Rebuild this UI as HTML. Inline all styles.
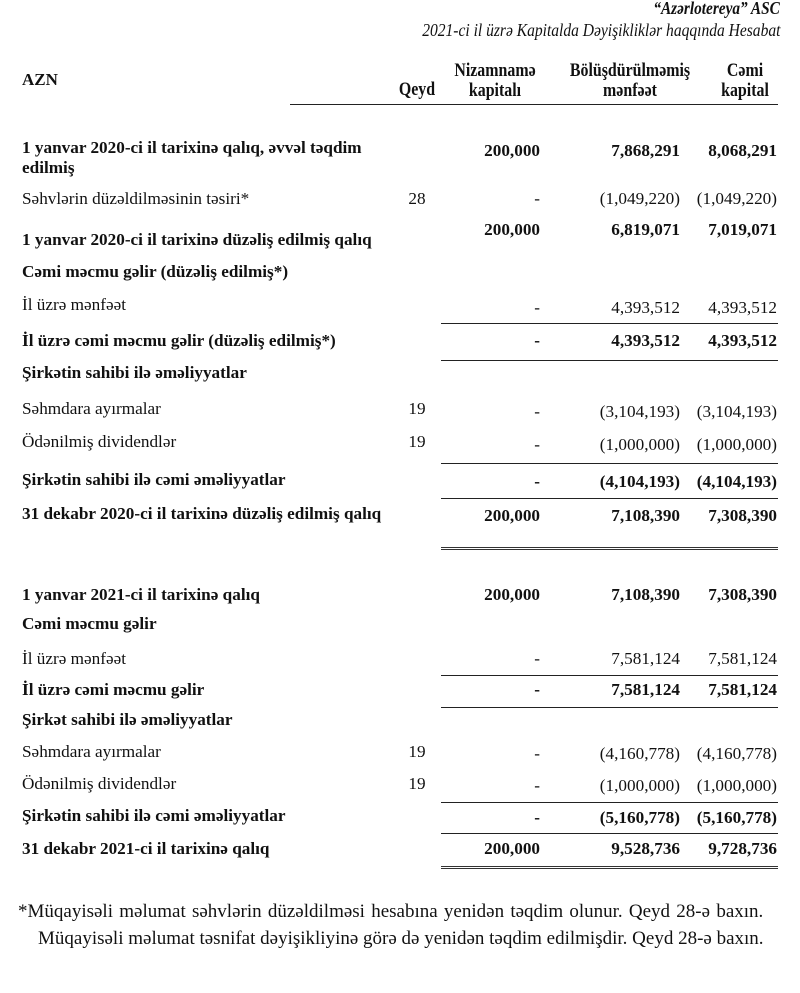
<!DOCTYPE html>
<html><head><meta charset="utf-8"><style>
body{margin:0;background:#fff;}
#p{position:relative;width:800px;height:993px;overflow:hidden;font-family:"Liberation Serif",serif;color:#111;font-size:17.2px;}
#p div{position:absolute;line-height:20px;white-space:nowrap;}
.b{font-weight:bold;}
.l{left:22px;}
.q{left:400px;width:34px;text-align:center;}
.c1{right:260px;text-align:right;}
.c2{right:120px;text-align:right;}
.c3{right:23px;text-align:right;}
.hr{height:0;border-top:1.3px solid #222;left:441px;width:337px;}
.hd{font-weight:bold;transform:scaleX(0.86);text-align:center;font-size:18.5px;}
</style></head><body><div id="p">
<div style="right:20px;top:-2px;font-style:italic;font-weight:bold;font-size:18px;transform:scaleX(.85);transform-origin:right">“Azərlotereya” ASC</div>
<div style="right:20px;top:20px;font-style:italic;font-size:18.3px;transform:scaleX(.85);transform-origin:right">2021-ci il üzrə Kapitalda Dəyişikliklər haqqında Hesabat</div>
<div class="b l" style="top:70px;font-size:17px">AZN</div>
<div class="hd" style="left:392px;top:80px;width:50px">Qeyd</div>
<div class="hd" style="left:440px;top:61px;width:110px">Nizamnamə<br>kapitalı</div>
<div class="hd" style="left:560px;top:61px;width:140px">Bölüşdürülməmiş<br>mənfəət</div>
<div class="hd" style="left:705px;top:61px;width:80px">Cəmi<br>kapital</div>
<div class="hr" style="top:104px;left:290px;width:488px"></div>

<div class="b l" style="top:138px">1 yanvar 2020-ci il tarixinə qalıq, əvvəl təqdim<br>edilmiş</div>
<div class="b c1" style="top:141px">200,000</div><div class="b c2" style="top:141px">7,868,291</div><div class="b c3" style="top:141px">8,068,291</div>
<div class="l" style="top:189px">Səhvlərin düzəldilməsinin təsiri*</div>
<div class="q" style="top:189px">28</div><div class="c1" style="top:189px">-</div><div class="c2" style="top:189px">(1,049,220)</div><div class="c3" style="top:189px">(1,049,220)</div>
<div class="b l" style="top:230px">1 yanvar 2020-ci il tarixinə düzəliş edilmiş qalıq</div>
<div class="b c1" style="top:220px">200,000</div><div class="b c2" style="top:220px">6,819,071</div><div class="b c3" style="top:220px">7,019,071</div>
<div class="b l" style="top:262px">Cəmi məcmu gəlir (düzəliş edilmiş*)</div>
<div class="l" style="top:295px">İl üzrə mənfəət</div>
<div class="c1" style="top:298px">-</div><div class="c2" style="top:298px">4,393,512</div><div class="c3" style="top:298px">4,393,512</div>
<div class="hr" style="top:323px"></div>
<div class="b l" style="top:331px">İl üzrə cəmi məcmu gəlir (düzəliş edilmiş*)</div>
<div class="b c1" style="top:331px">-</div><div class="b c2" style="top:331px">4,393,512</div><div class="b c3" style="top:331px">4,393,512</div>
<div class="hr" style="top:360px"></div>
<div class="b l" style="top:363px">Şirkətin sahibi ilə əməliyyatlar</div>
<div class="l" style="top:399px">Səhmdara ayırmalar</div>
<div class="q" style="top:399px">19</div><div class="c1" style="top:402px">-</div><div class="c2" style="top:402px">(3,104,193)</div><div class="c3" style="top:402px">(3,104,193)</div>
<div class="l" style="top:432px">Ödənilmiş dividendlər</div>
<div class="q" style="top:432px">19</div><div class="c1" style="top:435px">-</div><div class="c2" style="top:435px">(1,000,000)</div><div class="c3" style="top:435px">(1,000,000)</div>
<div class="hr" style="top:463px"></div>
<div class="b l" style="top:470px">Şirkətin sahibi ilə cəmi əməliyyatlar</div>
<div class="b c1" style="top:472px">-</div><div class="b c2" style="top:472px">(4,104,193)</div><div class="b c3" style="top:472px">(4,104,193)</div>
<div class="hr" style="top:498px"></div>
<div class="b l" style="top:504px">31 dekabr 2020-ci il tarixinə düzəliş edilmiş qalıq</div>
<div class="b c1" style="top:506px">200,000</div><div class="b c2" style="top:506px">7,108,390</div><div class="b c3" style="top:506px">7,308,390</div>
<div class="hr" style="top:547px;border-top:3px double #333;height:1px"></div>

<div class="b l" style="top:585px">1 yanvar 2021-ci il tarixinə qalıq</div>
<div class="b c1" style="top:585px">200,000</div><div class="b c2" style="top:585px">7,108,390</div><div class="b c3" style="top:585px">7,308,390</div>
<div class="b l" style="top:614px">Cəmi məcmu gəlir</div>
<div class="l" style="top:649px">İl üzrə mənfəət</div>
<div class="c1" style="top:649px">-</div><div class="c2" style="top:649px">7,581,124</div><div class="c3" style="top:649px">7,581,124</div>
<div class="hr" style="top:675px"></div>
<div class="b l" style="top:680px">İl üzrə cəmi məcmu gəlir</div>
<div class="b c1" style="top:680px">-</div><div class="b c2" style="top:680px">7,581,124</div><div class="b c3" style="top:680px">7,581,124</div>
<div class="hr" style="top:707px"></div>
<div class="b l" style="top:710px">Şirkət sahibi ilə əməliyyatlar</div>
<div class="l" style="top:742px">Səhmdara ayırmalar</div>
<div class="q" style="top:742px">19</div><div class="c1" style="top:744px">-</div><div class="c2" style="top:744px">(4,160,778)</div><div class="c3" style="top:744px">(4,160,778)</div>
<div class="l" style="top:774px">Ödənilmiş dividendlər</div>
<div class="q" style="top:774px">19</div><div class="c1" style="top:776px">-</div><div class="c2" style="top:776px">(1,000,000)</div><div class="c3" style="top:776px">(1,000,000)</div>
<div class="hr" style="top:802px"></div>
<div class="b l" style="top:806px">Şirkətin sahibi ilə cəmi əməliyyatlar</div>
<div class="b c1" style="top:808px">-</div><div class="b c2" style="top:808px">(5,160,778)</div><div class="b c3" style="top:808px">(5,160,778)</div>
<div class="hr" style="top:833px"></div>
<div class="b l" style="top:839px">31 dekabr 2021-ci il tarixinə qalıq</div>
<div class="b c1" style="top:839px">200,000</div><div class="b c2" style="top:839px">9,528,736</div><div class="b c3" style="top:839px">9,728,736</div>
<div class="hr" style="top:866px;border-top:3px double #333;height:1px"></div>

<div style="left:18px;top:902px;font-size:19px;word-spacing:1.5px">*Müqayisəli məlumat səhvlərin düzəldilməsi hesabına yenidən təqdim olunur. Qeyd 28-ə baxın.</div>
<div style="left:38px;top:929px;font-size:19px">Müqayisəli məlumat təsnifat dəyişikliyinə görə də yenidən təqdim edilmişdir. Qeyd 28-ə baxın.</div>
</div></body></html>
